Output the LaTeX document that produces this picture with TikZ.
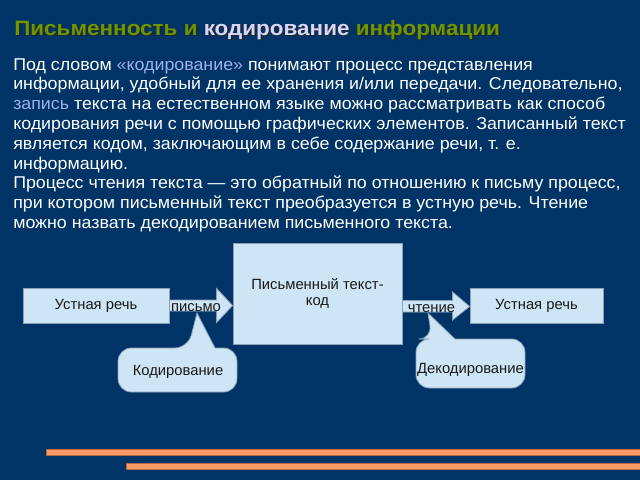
\documentclass[tikz,border=0pt]{standalone}
\usepackage{fontspec}
\setmainfont{Liberation Sans}
\newfontfamily\bodyfont[FakeStretch=1.044]{Liberation Sans}
\newfontfamily\ttlfont[FakeStretch=1.08]{Liberation Sans}
\usetikzlibrary{calc}
\definecolor{bg}{RGB}{0,51,102}
\definecolor{ttlgreen}{RGB}{110,150,0}
\definecolor{ttllav}{RGB}{214,214,250}
\definecolor{hl}{RGB}{160,175,240}
\definecolor{boxfill}{RGB}{206,229,245}
\definecolor{boxline}{RGB}{140,160,182}
\definecolor{stripe}{RGB}{255,153,102}
\definecolor{ink}{RGB}{25,25,25}
\tikzset{
  bodyline/.style={anchor=base west, inner sep=0pt, text=white, font=\bodyfont\fontsize{12.8}{14}\selectfont},
  ttl/.style={anchor=base west, inner sep=0pt, font=\ttlfont\bfseries\fontsize{15.6}{17}\selectfont},
  boxnode/.style={draw=boxline, fill=boxfill, line width=0.6pt, inner sep=0pt, text=ink, font=\fontsize{11.1}{12.6}\selectfont},
  lbl/.style={inner sep=0pt, text=ink, font=\fontsize{11.1}{12.6}\selectfont},
  barrow/.style={draw=boxline, fill=boxfill, line width=0.6pt},
  callout/.style={draw=boxline, fill=boxfill, line width=0.6pt},
  stripebar/.style={fill=stripe, draw=stripe!70!black, line width=0.3pt},
}
\begin{document}
\begin{tikzpicture}[x=0.75pt,y=-0.75pt]
\fill[bg] (0,0) rectangle (640,480);
\useasboundingbox (0,0) rectangle (640,480);
% title with shadow
\node (title) [ttl] at (14,35) {\rlap{\raisebox{-1.1pt}{\hspace{1.1pt}\color{black!85}Письменность и кодирование информации}}{\color{ttlgreen}Письменность и }{\color{ttllav}кодирование} {\color{ttlgreen}информации}};
% body
\node (l1) [bodyline] at (13,70) {Под словом {\color{hl}«кодирование»} понимают процесс представления};
\node (l2) [bodyline] at (13,89.8) {информации, удобный для ее хранения и/или передачи. Следовательно,};
\node (l3) [bodyline] at (13,109.6) {{\color{hl}запись} текста на естественном языке можно рассматривать как способ};
\node (l4) [bodyline] at (13,129.4) {кодирования речи с помощью графических элементов. Записанный текст};
\node (l5) [bodyline] at (13,149.2) {является кодом, заключающим в себе содержание речи, т. е.};
\node (l6) [bodyline] at (13,169) {информацию.};
\node (l7) [bodyline] at (13,188.8) {Процесс чтения текста — это обратный по отношению к письму процесс,};
\node (l8) [bodyline] at (13,208.6) {при котором письменный текст преобразуется в устную речь. Чтение};
\node (l9) [bodyline] at (13,228.4) {можно назвать декодированием письменного текста.};
% boxes
\node (oral1) [boxnode, minimum width=109.5pt, minimum height=26.25pt] at (96,305.5) {Устная речь};
\node (code) [boxnode, minimum width=126.75pt, minimum height=75.75pt, align=center] at (317.5,293.5) {Письменный текст-\\код};
\node (oral2) [boxnode, minimum width=99.75pt, minimum height=26.25pt] at (536.5,305.5) {Устная речь};
% block arrows
\draw[barrow] ($(oral1.east)+(0,-5.5)$) -- ($(code.west |- oral1.east)+(-16,-5.5)$) -- ($(code.west |- oral1.east)+(-16,-17)$) -- (code.west |- oral1.east) -- ($(code.west |- oral1.east)+(-16,17)$) -- ($(code.west |- oral1.east)+(-16,5.5)$) -- ($(oral1.east)+(0,5.5)$) -- cycle;
\draw[barrow] ($(code.east |- oral2.west)+(0,-5)$) -- ($(oral2.west)+(-17,-5)$) -- ($(oral2.west)+(-17,-13.5)$) -- ($(oral2.west)+(0,1)$) -- ($(oral2.west)+(-17,14.5)$) -- ($(oral2.west)+(-17,6.5)$) -- ($(code.east |- oral2.west)+(0,6.5)$) -- cycle;
\node (w1) [lbl, anchor=base] at (196,311) {письмо};
\node (w2) [lbl, anchor=base] at (431.5,312) {чтение};
% callouts
\coordinate (tip1) at (197,313);
\coordinate (tip2) at (428,313);
\draw[callout] (118,370) [rounded corners=10] -- (118,348) -- (188,348) [sharp corners] -- (tip1) -- (215,348) [rounded corners=10] -- (237,348) -- (237,392) -- (118,392) [sharp corners] -- cycle;
\draw[callout] (416,364) [rounded corners=10] -- (416,339) -- (432,339) [sharp corners] -- (tip2) -- (455,339) [rounded corners=10] -- (525,339) -- (525,388) -- (416,388) [sharp corners] -- cycle;
\node (enc) [lbl, anchor=base] at (178,375) {Кодирование};
\node (dec) [lbl, anchor=base] at (470.5,373) {Декодирование};
% stripes
\fill[stripebar] (46,449) rectangle (640,455);
\fill[stripebar] (126,463) rectangle (640,469);
\end{tikzpicture}
\end{document}
